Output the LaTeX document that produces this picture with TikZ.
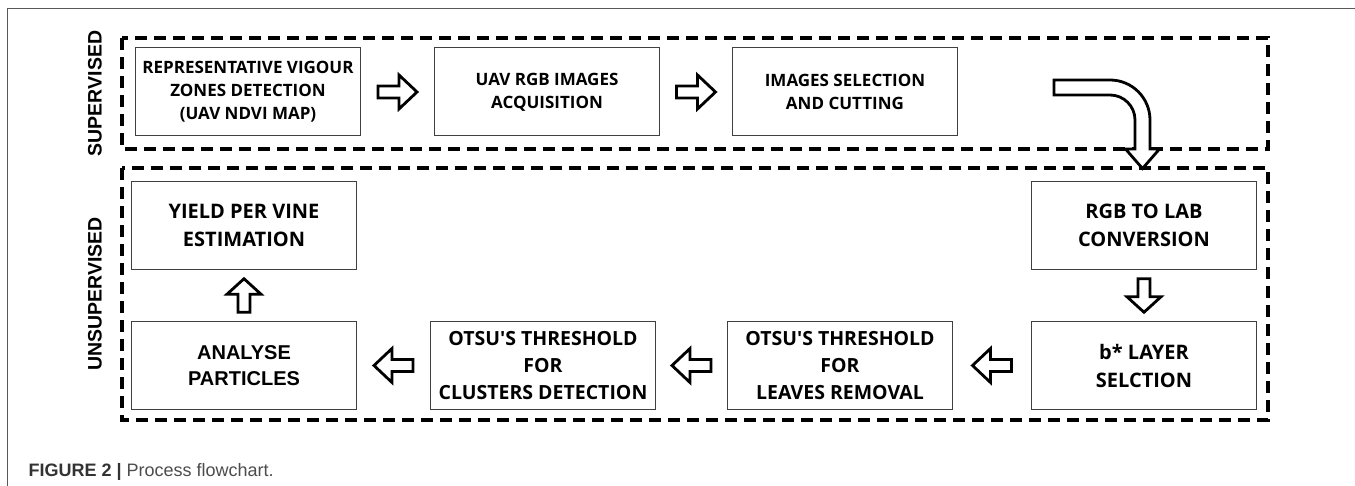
\documentclass[tikz,border=0pt]{standalone}
\usepackage{fontspec}
\setmainfont{Open Sans}
\newfontfamily\arialfont{Liberation Sans}
\usetikzlibrary{positioning, calc}

\begin{document}
\begin{tikzpicture}[x=1pt, y=1pt,
      box/.style={draw=black!75, line width=1pt, minimum width=225pt,
        minimum height=88pt, align=center, inner sep=2pt},
      top/.style={box, font=\fontsize{17}{23}\selectfont\bfseries},
      low/.style={box, font=\fontsize{20}{28}\selectfont\bfseries},
      otsu/.style={box, font=\fontsize{19.5}{27}\selectfont\bfseries},
      frame/.style={line width=3.3pt, dash pattern=on 12pt off 7pt},
      side/.style={rotate=90, font=\arialfont\fontsize{19.5}{20}\selectfont\bfseries},
      barrow/.pic={\draw[line width=2.8pt, fill=white] (-19.5,-6) -- (1.5,-6)
        -- (1.5,-17) -- (19.5,0) -- (1.5,17) -- (1.5,6) -- (-19.5,6) -- cycle;}]
    \useasboundingbox (0,0) rectangle (1355,-486);
    \draw[black!65, line width=1.5pt] (1355,-8.5) -- (7.5,-8.5) -- (7.5,-486);

    \draw[frame] (122,-38) rectangle (1268,-149);
    \draw[frame] (122,-168) rectangle (1268,-420);
    \node[side] (sup) at (95,-93.5) {SUPERVISED};
    \node[side] (unsup) at (95,-294) {UNSUPERVISED};

    \node[top] (rep) at (248,-92) {REPRESENTATIVE VIGOUR\\ZONES DETECTION\\(UAV NDVI MAP)};
    \node[top, right=73pt of rep] (acq) {UAV RGB IMAGES\\ACQUISITION};
    \node[top, right=72pt of acq] (sel) {IMAGES SELECTION\\AND CUTTING};
    \node[low] (lab) at (1144,-225.5) {RGB TO LAB\\CONVERSION};
    \node[low, below=51pt of lab] (bsel) {b* LAYER\\SELCTION};
    \node[otsu, left=78pt of bsel] (leaves) {OTSU\textquotesingle S THRESHOLD\\FOR\\LEAVES REMOVAL};
    \node[otsu, left=71pt of leaves] (clus) {OTSU\textquotesingle S THRESHOLD\\FOR\\CLUSTERS DETECTION};
    \node[low, left=73pt of clus, font=\arialfont\fontsize{20}{26}\selectfont\bfseries] (part) {ANALYSE\\PARTICLES};
    \node[low, above=51pt of part] (yield) {YIELD PER VINE\\ESTIMATION};

    \path ($(rep.east)!.5!(acq.west)$) pic {barrow};
    \path ($(acq.east)!.5!(sel.west)$) pic {barrow};
    \path ($(lab.south)!.5!(bsel.north)$) pic[rotate=-90, xscale=.86] {barrow};
    \path ($(bsel.west)!.5!(leaves.east)$) pic[rotate=180] {barrow};
    \path ($(leaves.west)!.5!(clus.east)$) pic[rotate=180] {barrow};
    \path ($(clus.west)!.5!(part.east)$) pic[rotate=180] {barrow};
    \path ($(part.north)!.5!(yield.south)$) pic[rotate=90, xscale=.86] {barrow};

    \draw[line width=2.8pt, fill=white] (1054,-80) -- (1110,-80) arc(90:0:40)
      -- (1150,-149) -- (1159.5,-149) -- (1142.5,-168.5) -- (1125.5,-149)
      -- (1135,-149) -- (1135,-120) arc(0:90:25) -- (1054,-95) -- cycle;

    \node[anchor=base west, font=\arialfont\fontsize{18}{18}\selectfont] (cap) at (25,-476)
      {{\color{black!80}\bfseries FIGURE 2 |} {\color{black!70}Process flowchart.}};
  \end{tikzpicture}
\end{document}
